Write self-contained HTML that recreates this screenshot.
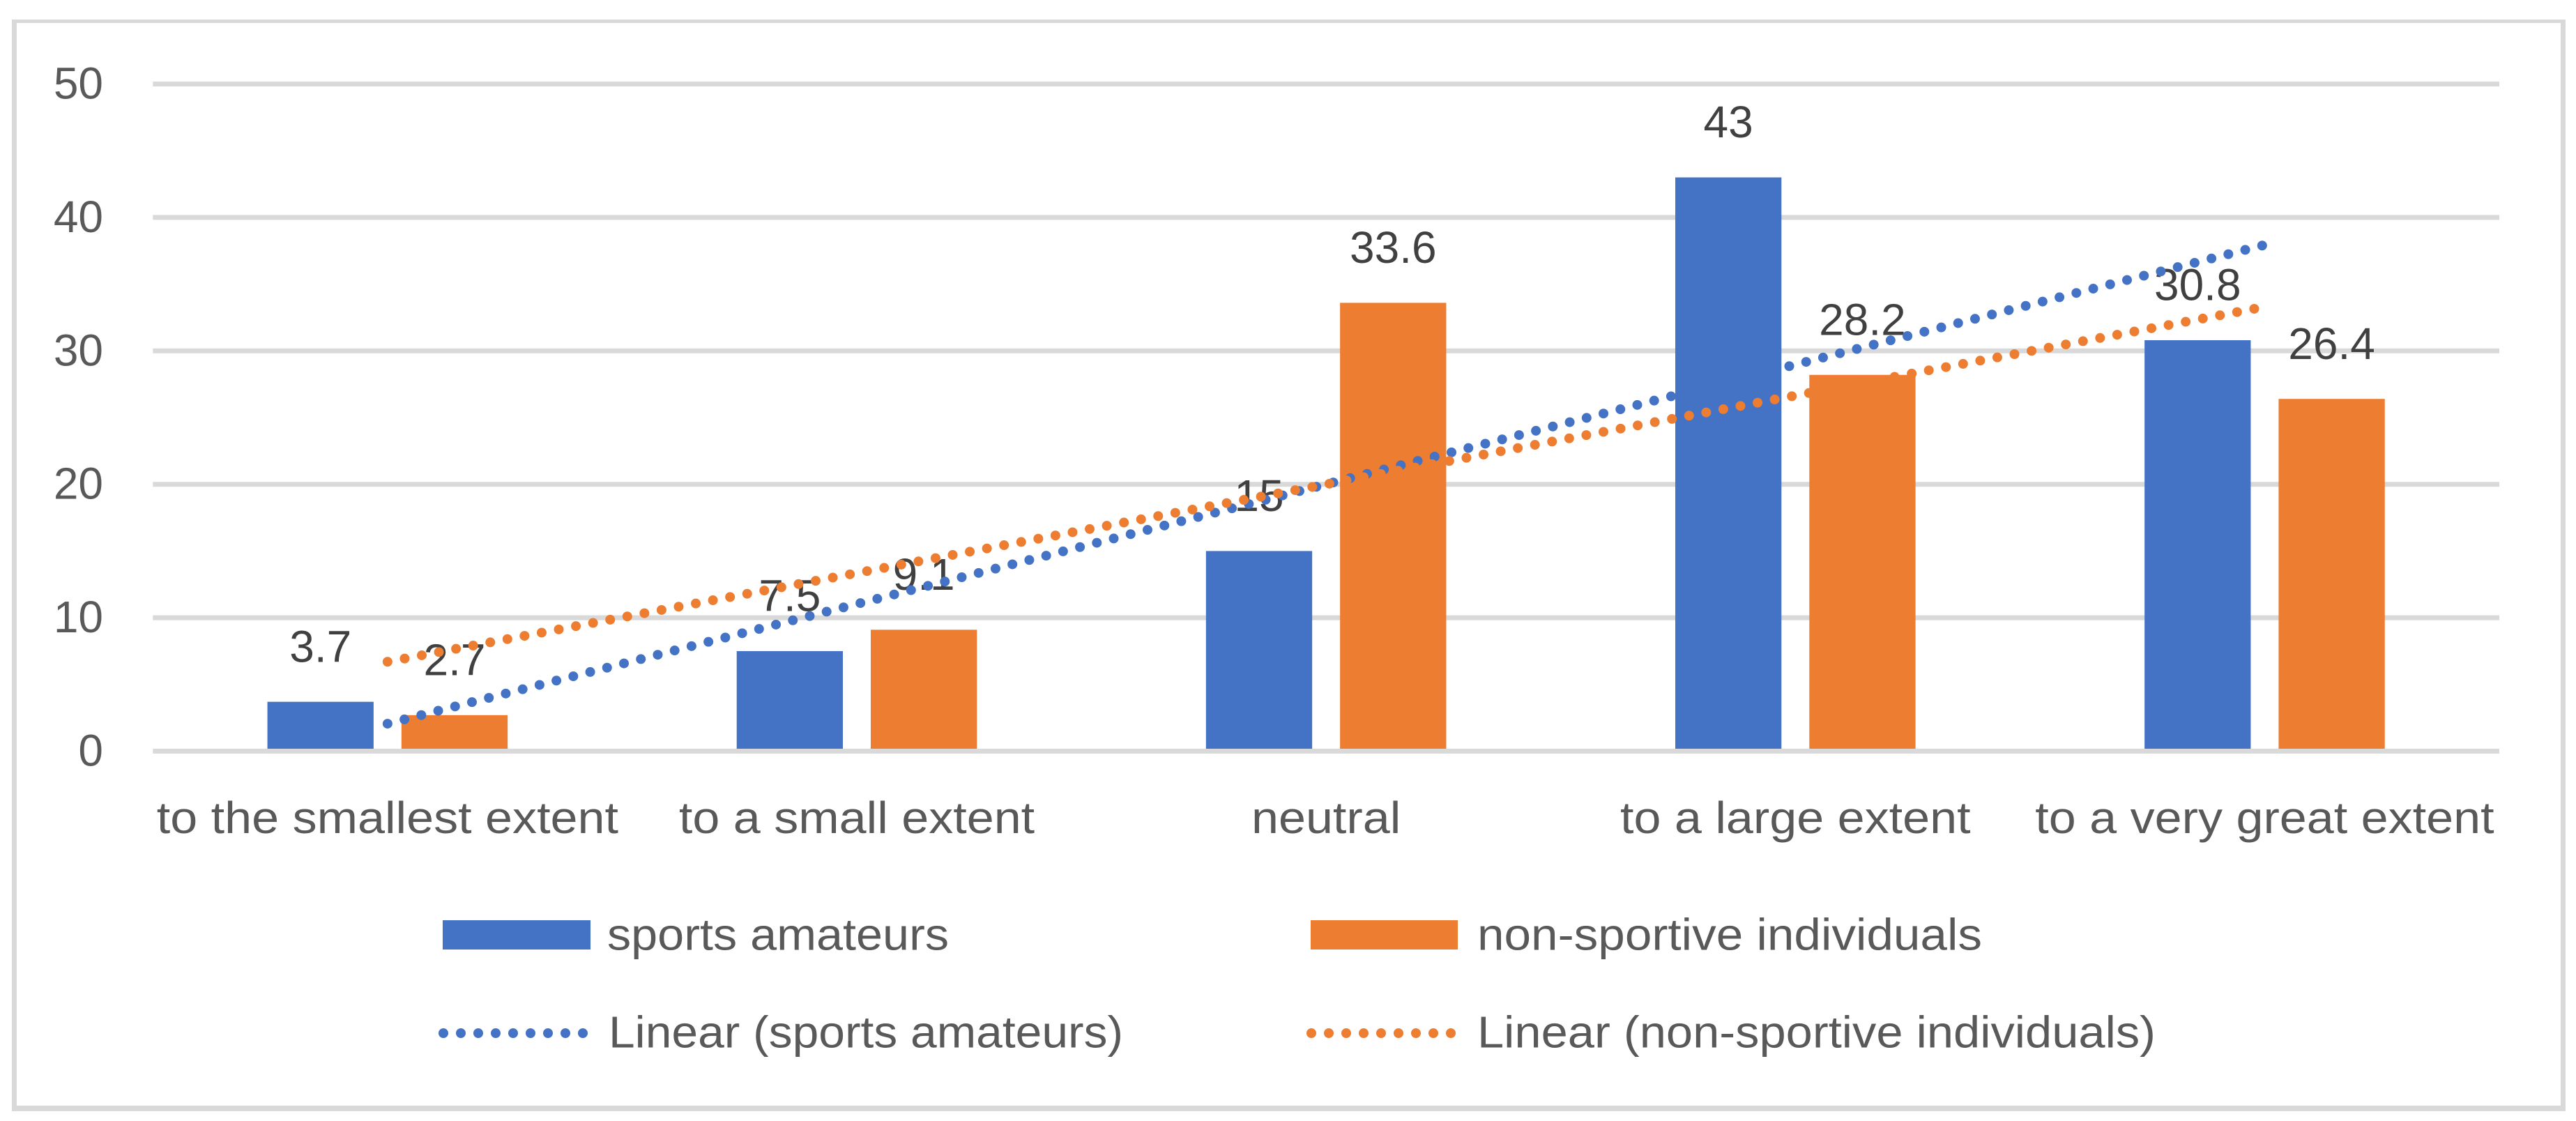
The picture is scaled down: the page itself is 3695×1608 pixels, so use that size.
<!DOCTYPE html>
<html lang="en">
<head>
<meta charset="utf-8">
<title>Sports amateurs vs non-sportive individuals</title>
<style>
  html, body { margin: 0; padding: 0; background: #ffffff; }
  svg { display: block; font-family: "Liberation Sans", Arial, sans-serif; }
  .tick { font-size: 64px; fill: #595959; }
  .value { font-size: 64px; fill: #404040; }
</style>
</head>
<body>
<svg id="chart" xmlns="http://www.w3.org/2000/svg" width="3695" height="1608" viewBox="0 0 3695 1608">
  <rect x="0" y="0" width="3695" height="1608" fill="#ffffff"/>
  <g fill="#d9d9d9">
    <rect x="17" y="28" width="3663" height="5"/>
    <rect x="17" y="28" width="7" height="1566"/>
    <rect x="3673" y="28" width="7" height="1566"/>
    <rect x="17" y="1586" width="3663" height="8"/>
  </g>
  <g id="grid"></g>
  <g id="bars"></g>
  <g id="axis"></g>
  <g id="values"></g>
  <g id="trends"></g>
  <g id="yticks"></g>
  <g id="xticks"></g>
  <g>
    <rect x="635" y="1320" width="212" height="42" fill="#4472c4"/>
    <text class="tick" x="871" y="1362.5" textLength="490" lengthAdjust="spacingAndGlyphs">sports amateurs</text>
    <rect x="1880" y="1320" width="211" height="42" fill="#ed7d31"/>
    <text class="tick" x="2119" y="1362.5" textLength="724" lengthAdjust="spacingAndGlyphs">non-sportive individuals</text>
    <line x1="636" y1="1482" x2="836.5" y2="1482" stroke="#4472c4" stroke-width="14" stroke-linecap="round" stroke-dasharray="0 25"/>
    <text class="tick" x="873" y="1502.5" textLength="738" lengthAdjust="spacingAndGlyphs">Linear (sports amateurs)</text>
    <line x1="1881" y1="1482" x2="2081.5" y2="1482" stroke="#ed7d31" stroke-width="14" stroke-linecap="round" stroke-dasharray="0 25"/>
    <text class="tick" x="2119" y="1502.5" textLength="973" lengthAdjust="spacingAndGlyphs">Linear (non-sportive individuals)</text>
  </g>
</svg>
<script>
const categories = ["to the smallest extent", "to a small extent", "neutral", "to a large extent", "to a very great extent"];
const sportsAmateurs = [3.7, 7.5, 15, 43, 30.8];
const nonSportive = [2.7, 9.1, 33.6, 28.2, 26.4];
const yTicks = [0, 10, 20, 30, 40, 50];

const NS = "http://www.w3.org/2000/svg";
const plotLeft = 219.3, plotRight = 3585, plotTop = 120.5, plotBottom = 1077.5;
const yMax = 50, barW = 152.3, barGap = 40, xLabelStretch = 1.095;
const blue = "#4472c4", orange = "#ed7d31";

function yScale(v) { return plotBottom - (v / yMax) * (plotBottom - plotTop); }
function xCenter(i) { return plotLeft + (i + 0.5) * (plotRight - plotLeft) / categories.length; }
function make(tag, attrs, parent) {
  const el = document.createElementNS(NS, tag);
  for (const k in attrs) el.setAttribute(k, attrs[k]);
  parent.appendChild(el);
  return el;
}
function slug(s) { return s.replace(/\s+/g, "-"); }
function linearFit(values) {
  const n = values.length;
  const mx = (n - 1) / 2;
  const my = values.reduce((a, b) => a + b, 0) / n;
  let num = 0, den = 0;
  values.forEach((v, i) => { num += (i - mx) * (v - my); den += (i - mx) * (i - mx); });
  const slope = num / den;
  return function (i) { return my + slope * (i - mx); };
}

const gridG = document.getElementById("grid");
const axisG = document.getElementById("axis");
const yG = document.getElementById("yticks");
yTicks.forEach(function (t) {
  const line = make("line", { x1: plotLeft, x2: plotRight, y1: yScale(t), y2: yScale(t), stroke: "#d9d9d9", "stroke-width": 7 }, t === 0 ? axisG : gridG);
  
  
  const label = make("text", { x: 148, y: yScale(t) + 21, "text-anchor": "end", class: "tick" }, yG);
  label.textContent = t;
  
  
});

const barsG = document.getElementById("bars");
const valuesG = document.getElementById("values");
function drawSeries(values, color, offset, key) {
  values.forEach(function (v, i) {
    const x = xCenter(i) + offset;
    const bar = make("rect", { x: x - barW / 2, y: yScale(v), width: barW, height: plotBottom - yScale(v), fill: color }, barsG);
    
    
    const label = make("text", { x: x, y: yScale(v) - 57.3, "text-anchor": "middle", class: "value" }, valuesG);
    label.textContent = v;
    
    
  });
}
drawSeries(sportsAmateurs, blue, -(barW + barGap) / 2, "sports-amateurs");
drawSeries(nonSportive, orange, (barW + barGap) / 2, "non-sportive");

const trendG = document.getElementById("trends");
function drawTrend(values, color, key) {
  const fit = linearFit(values);
  const last = values.length - 1;
  const line = make("line", {
    x1: xCenter(0), y1: yScale(fit(0)), x2: xCenter(last), y2: yScale(fit(last)),
    stroke: color, "stroke-width": 14, "stroke-linecap": "round", "stroke-dasharray": "0 25"
  }, trendG);
  
  
}
drawTrend(sportsAmateurs, blue, "sports-amateurs");
drawTrend(nonSportive, orange, "non-sportive");

const xG = document.getElementById("xticks");
categories.forEach(function (c, i) {
  const label = make("text", { x: xCenter(i), y: 1195, "text-anchor": "middle", class: "tick" }, xG);
  label.textContent = c;
  
  
  label.setAttribute("textLength", label.getComputedTextLength() * xLabelStretch);
  label.setAttribute("lengthAdjust", "spacingAndGlyphs");
});
</script>
</body>
</html>
